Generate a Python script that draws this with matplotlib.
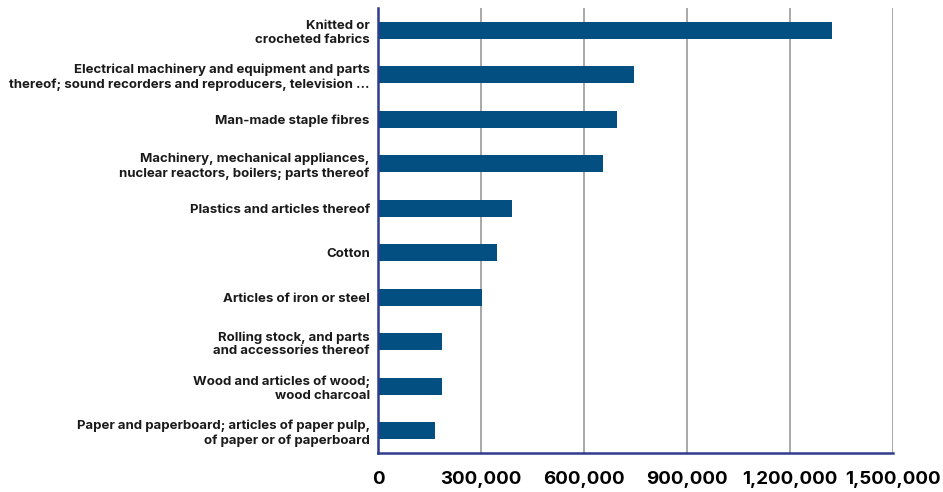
import matplotlib.pyplot as plt
from matplotlib.ticker import FuncFormatter

categories = [
    "Knitted or\ncrocheted fabrics",
    "Electrical machinery and equipment and parts\nthereof; sound recorders and reproducers, television ...",
    "Man-made staple fibres",
    "Machinery, mechanical appliances,\nnuclear reactors, boilers; parts thereof",
    "Plastics and articles thereof",
    "Cotton",
    "Articles of iron or steel",
    "Rolling stock, and parts\nand accessories thereof",
    "Wood and articles of wood;\nwood charcoal",
    "Paper and paperboard; articles of paper pulp,\nof paper or of paperboard",
]
values = [1321000, 745000, 696000, 656000, 390000, 346000, 302000, 185000, 186000, 165000]
xticks = [0, 300000, 600000, 900000, 1200000, 1500000]

plt.rcParams['font.family'] = ['Inter', 'DejaVu Sans']

fig = plt.figure(figsize=(9.43, 4.92), dpi=100)
ax = fig.add_axes([378 / 943, 1 - 453 / 492, (893 - 378) / 943, (453 - 8) / 492])

pos = list(range(len(categories)))
ax.barh(pos, values, height=0.38, color='#034f82', zorder=3)
ax.set_ylim(len(categories) - 0.5, -0.5)
ax.set_xlim(0, 1500000)
ax.set_yticks(pos)
ax.set_yticklabels(categories, fontsize=9.5, fontweight='bold', color='#1a1a1a',
                   linespacing=1.2)
ax.set_xticks(xticks)
ax.xaxis.set_major_formatter(FuncFormatter(lambda v, p: f"{int(v):,}"))
for lbl in ax.get_xticklabels():
    lbl.set_fontsize(13.5)
    lbl.set_fontweight('bold')
ax.tick_params(axis='x', length=0, pad=13)
ax.tick_params(axis='y', length=0, pad=6)

ax.grid(axis='x', color='#999999', linewidth=1.2, zorder=0)
for s in ['top', 'right']:
    ax.spines[s].set_visible(False)
for s in ['left', 'bottom']:
    ax.spines[s].set_color('#2e3d8c')
    ax.spines[s].set_linewidth(1.8)
    ax.spines[s].set_zorder(4)

fig.savefig('out.png', dpi=100)
